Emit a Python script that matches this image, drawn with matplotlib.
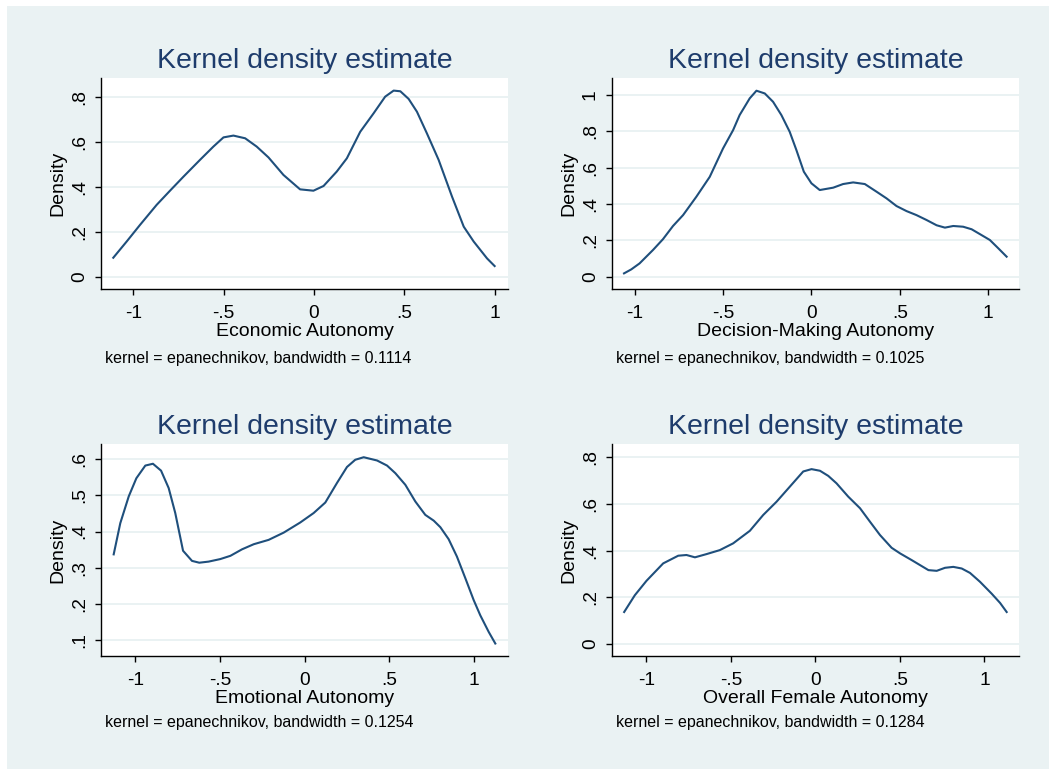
import matplotlib
matplotlib.use("Agg")
import matplotlib.pyplot as plt
from matplotlib.patches import Rectangle

plt.rcParams['font.family'] = ['Liberation Sans', 'DejaVu Sans']

# --- Data (x, density) ---
econ_x = [-1.111, -1.037, -0.963, -0.871, -0.797, -0.723, -0.631, -0.557, -0.501, -0.446,
          -0.381, -0.317, -0.252, -0.169, -0.077, -0.003, 0.053, 0.126, 0.182, 0.256,
          0.330, 0.394, 0.441, 0.478, 0.524, 0.570, 0.625, 0.690, 0.764, 0.829,
          0.884, 0.958, 1.000]
econ_y = [0.084, 0.156, 0.230, 0.319, 0.382, 0.444, 0.519, 0.578, 0.619, 0.627,
          0.615, 0.578, 0.530, 0.452, 0.388, 0.382, 0.403, 0.467, 0.526, 0.644,
          0.726, 0.800, 0.827, 0.824, 0.790, 0.733, 0.637, 0.519, 0.356, 0.222,
          0.156, 0.081, 0.047]

dec_x = [-1.060, -1.019, -0.972, -0.896, -0.840, -0.783, -0.726, -0.651, -0.575, -0.500,
         -0.443, -0.406, -0.349, -0.311, -0.264, -0.217, -0.170, -0.123, -0.085, -0.043,
         0.000, 0.047, 0.123, 0.179, 0.236, 0.302, 0.368, 0.425, 0.481, 0.538,
         0.594, 0.651, 0.708, 0.755, 0.802, 0.858, 0.906, 0.962, 1.009, 1.057, 1.104]
dec_y = [0.018, 0.040, 0.073, 0.147, 0.206, 0.279, 0.339, 0.440, 0.550, 0.706,
         0.807, 0.890, 0.982, 1.024, 1.009, 0.963, 0.890, 0.798, 0.697, 0.578,
         0.514, 0.477, 0.490, 0.510, 0.519, 0.510, 0.468, 0.431, 0.389, 0.361,
         0.339, 0.312, 0.283, 0.270, 0.279, 0.275, 0.261, 0.229, 0.202, 0.156, 0.110]

emo_x = [-1.128, -1.089, -1.039, -0.994, -0.941, -0.896, -0.848, -0.803, -0.764, -0.718,
         -0.665, -0.622, -0.567, -0.498, -0.438, -0.369, -0.300, -0.212, -0.123, -0.025,
         0.054, 0.123, 0.192, 0.251, 0.300, 0.350, 0.429, 0.488, 0.537, 0.596,
         0.655, 0.714, 0.764, 0.803, 0.852, 0.901, 0.951, 1.000, 1.039, 1.089, 1.128]
emo_y = [0.337, 0.423, 0.497, 0.547, 0.582, 0.587, 0.568, 0.520, 0.451, 0.347,
         0.319, 0.314, 0.317, 0.324, 0.333, 0.351, 0.365, 0.377, 0.397, 0.425,
         0.451, 0.480, 0.534, 0.578, 0.598, 0.605, 0.596, 0.582, 0.561, 0.529,
         0.483, 0.446, 0.430, 0.412, 0.379, 0.331, 0.271, 0.211, 0.169, 0.123, 0.091]

all_x = [-1.132, -1.069, -1.000, -0.901, -0.812, -0.763, -0.713, -0.644, -0.566, -0.487,
         -0.388, -0.309, -0.230, -0.151, -0.072, -0.023, 0.027, 0.076, 0.125, 0.194,
         0.264, 0.323, 0.382, 0.451, 0.501, 0.570, 0.669, 0.718, 0.767, 0.816,
         0.866, 0.915, 0.974, 1.043, 1.093, 1.132]
all_y = [0.136, 0.208, 0.270, 0.345, 0.378, 0.381, 0.371, 0.385, 0.402, 0.431,
         0.485, 0.553, 0.610, 0.675, 0.740, 0.750, 0.743, 0.721, 0.689, 0.632,
         0.582, 0.524, 0.467, 0.412, 0.388, 0.359, 0.316, 0.313, 0.326, 0.330,
         0.323, 0.304, 0.266, 0.215, 0.175, 0.136]

xlabels = ['Economic Autonomy', 'Decision-Making Autonomy',
           'Emotional Autonomy', 'Overall Female Autonomy']
bandwidths = ['0.1114', '0.1025', '0.1254', '0.1284']
x_ticks = [-1, -0.5, 0, 0.5, 1]
x_ticklabels = ['-1', '-.5', '0', '.5', '1']
y_ticks = [[0, 0.2, 0.4, 0.6, 0.8],
           [0, 0.2, 0.4, 0.6, 0.8, 1.0],
           [0.1, 0.2, 0.3, 0.4, 0.5, 0.6],
           [0, 0.2, 0.4, 0.6, 0.8]]
y_ticklabels = [['0', '.2', '.4', '.6', '.8'],
                ['0', '.2', '.4', '.6', '.8', '1'],
                ['.1', '.2', '.3', '.4', '.5', '.6'],
                ['0', '.2', '.4', '.6', '.8']]
xlims = [(-1.179, 1.074), (-1.128, 1.174), (-1.203, 1.203), (-1.204, 1.205)]
ylims = [(-0.055, 0.883), (-0.068, 1.094), (0.0566, 0.6415), (-0.053, 0.858)]

series = [(econ_x, econ_y), (dec_x, dec_y), (emo_x, emo_y), (all_x, all_y)]

W, H = 1049, 769
BG = '#EAF2F3'
LINE = '#1F4F7C'
TITLE = '#1E3C6C'

fig = plt.figure(figsize=(W / 100, H / 100), dpi=100)
fig.patch.set_facecolor('white')
fig.patches.append(Rectangle((7 / W, 0), 1 - 7 / W, (H - 6) / H,
                             transform=fig.transFigure, facecolor=BG,
                             edgecolor='none', zorder=-10))

# axes boxes in pixels: left, right, top, bottom
boxes = [(101, 508, 78, 289), (612, 1019, 78, 289),
         (101, 508, 444, 656), (612, 1019, 444, 656)]
note_pos = [(105, 358), (616, 358), (105, 723), (616, 723)]

for i, (l, r, t, b) in enumerate(boxes):
    ax = fig.add_axes([l / W, 1 - b / H, (r - l) / W, (b - t) / H])
    ax.set_facecolor('white')
    for y in y_ticks[i]:
        ax.axhline(y, color=BG, linewidth=1.4, zorder=1)
    xs, ys = series[i]
    ax.plot(xs, ys, color=LINE, linewidth=1.5, zorder=3)
    ax.set_xlim(*xlims[i])
    ax.set_ylim(*ylims[i])
    ax.set_xticks(x_ticks)
    ax.set_xticklabels(x_ticklabels)
    ax.set_yticks(y_ticks[i])
    ax.set_yticklabels(y_ticklabels[i], rotation=90, va='center')
    ax.tick_params(axis='both', length=4.5, width=1.0, labelsize=13.8)
    ax.tick_params(axis='x', pad=7)
    ax.tick_params(axis='y', pad=5)
    for side in ['top', 'right']:
        ax.spines[side].set_visible(False)
    for side in ['left', 'bottom']:
        ax.spines[side].set_linewidth(1.0)
    ax.set_title('Kernel density estimate', fontsize=20.5, color=TITLE, pad=7.2)
    ax.set_xlabel(xlabels[i], fontsize=14, labelpad=1)
    ax.set_ylabel('Density', fontsize=14, labelpad=3)
    nx, ny = note_pos[i]
    fig.text(nx / W, 1 - ny / H,
             f'kernel = epanechnikov, bandwidth = {bandwidths[i]}',
             fontsize=11.5, ha='left', va='center')

fig.savefig('out.png', dpi=100)
